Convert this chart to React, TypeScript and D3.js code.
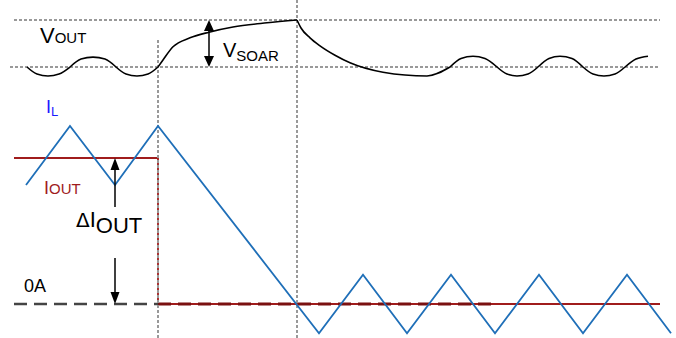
import React from "react";
import * as d3 from "d3";

// time axis (arbitrary units), output voltage (0 = VOUT, 1 = VOUT + VSOAR), inductor current (1 = IOUT)
// output voltage ripple, one arc per half period
const vRippleBefore = [
  [[27, 0], [37, -0.15], [48, -0.19], [59, -0.15], [70, 0]],
  [[70, 0], [81, 0.17], [93, 0.21], [105, 0.17], [116, 0]],
  [[116, 0], [126, -0.15], [137, -0.19], [148, -0.15], [158, 0]],
];
const vSoar = [
  [158, 0], [163, 0.15], [173, 0.43], [190, 0.62], [209, 0.74], [233, 0.85], [267, 0.94], [297, 1.0],
];
const vRecover = [
  [297, 1.0], [301, 0.83], [310, 0.62], [320, 0.45], [335, 0.25], [350, 0.09], [383, -0.11], [427, -0.19], [450, 0],
];
const vRippleAfter = [
  [[450, 0], [461, 0.18], [473, 0.23], [485, 0.18], [497, 0]],
  [[497, 0], [507, -0.15], [517, -0.19], [528, -0.15], [538, 0]],
  [[538, 0], [549, 0.18], [560, 0.23], [572, 0.18], [583, 0]],
  [[583, 0], [593, -0.15], [604, -0.19], [615, -0.15], [625, 0]],
  [[625, 0], [636, 0.17], [648, 0.23]],
];
const ilPoints = [
  [26, 0.815], [70, 1.22], [115, 0.815], [158, 1.22], [319, -0.2], [363, 0.2], [407, -0.2],
  [451, 0.2], [495, -0.2], [539, 0.2], [583, -0.2], [627, 0.2], [671, -0.2],
];
const ioutPoints = [[14, 1], [158, 1], [158, 0], [660, 0]];
const zeroDashed = [[14, 0], [158, 0]];
const zeroDashedRed = [[158, 0], [491, 0]];
const vGuides = [0, 1];
const tGuides = [158, 297];

const W = 676;
const H = 338;

export default function App() {
  const x = d3.scaleLinear().domain([0, 676]).range([0, W]);
  const yv = d3.scaleLinear().domain([0, 1]).range([67, 20]);
  const yi = d3.scaleLinear().domain([0, 1]).range([304, 158]);

  const arc = d3.line<number[]>().x((d) => x(d[0])).y((d) => yv(d[1])).curve(d3.curveMonotoneX);
  const vLine = d3.line<number[]>().x((d) => x(d[0])).y((d) => yv(d[1])).curve(d3.curveMonotoneX);
  const iLine = d3.line<number[]>().x((d) => x(d[0])).y((d) => yi(d[1]));

  const font = "'Liberation Sans', Arial, sans-serif";
  const arrowHead = (cx: number, tip: number, dir: number, len: number, hw: number) =>
    `M${cx},${tip} L${cx - hw},${tip + dir * len} L${cx + hw},${tip + dir * len} Z`;

  const ax = x(115);
  const sx = x(209);

  return (
    <svg width={W} height={H} style={{ position: "absolute", left: 0, top: 0, background: "#fff" }} fontFamily={font}>
      {/* current traces */}
      <path d={iLine(ioutPoints as any)!} fill="none" stroke="#a01c1c" strokeWidth={1.8} />
      <path d={iLine(zeroDashed as any)!} fill="none" stroke="#444" strokeWidth={2.5} strokeDasharray="13 7" />
      <path d={iLine(zeroDashedRed as any)!} fill="none" stroke="#7a1010" strokeWidth={3} strokeDasharray="13 7" />

      {/* guides */}
      {vGuides.map((v, i) => (
        <line key={"h" + i} x1={x(i === 0 ? 10 : 14)} x2={x(660)} y1={yv(v)} y2={yv(v)}
          stroke="#999" strokeWidth={2} strokeDasharray="3 2" />
      ))}
      {tGuides.map((t, i) => (
        <line key={"v" + i} x1={x(t)} x2={x(t)} y1={i === 0 ? 40 : 0} y2={H}
          stroke="#999" strokeWidth={2} strokeDasharray="3 2" />
      ))}

      <path d={iLine(ilPoints as any)!} fill="none" stroke="#1f6fb8" strokeWidth={1.8} />

      {/* output voltage */}
      {[...vRippleBefore, ...vRippleAfter].map((seg, i) => (
        <path key={"r" + i} d={arc(seg as any)!} fill="none" stroke="#000" strokeWidth={1.6} />
      ))}
      {[vSoar, vRecover].map((seg, i) => (
        <path key={"vo" + i} d={vLine(seg as any)!} fill="none" stroke="#000" strokeWidth={1.6} />
      ))}

      {/* VSOAR arrow */}
      <line x1={sx} x2={sx} y1={yv(1) + 8} y2={yv(0) - 8} stroke="#000" strokeWidth={1.5} />
      <path d={arrowHead(sx, yv(1), 1, 11, 5)} fill="#000" />
      <path d={arrowHead(sx, yv(0), -1, 11, 5)} fill="#000" />

      {/* delta IOUT arrows */}
      <line x1={ax} x2={ax} y1={yi(1) + 8} y2={yi(0.664)} stroke="#000" strokeWidth={1.5} />
      <path d={arrowHead(ax, yi(1), 1, 12, 4.5)} fill="#000" />
      <line x1={ax} x2={ax} y1={yi(0.315)} y2={yi(0) - 8} stroke="#000" strokeWidth={1.5} />
      <path d={arrowHead(ax, yi(0), -1, 12, 4.5)} fill="#000" />

      {/* labels */}
      <text x={40} y={43} fontSize={22} fill="#000">V<tspan fontSize={15}>OUT</tspan></text>
      <text x={223} y={57} fontSize={20} fill="#000">V<tspan fontSize={15} dy={4}>SOAR</tspan></text>
      <text x={46} y={113} fontSize={18} fill="#1a1aff">I<tspan fontSize={13} dy={3}>L</tspan></text>
      <text x={44} y={194} fontSize={18} fill="#a01c1c">I<tspan fontSize={15}>OUT</tspan></text>
      <text x={76} y={227} fontSize={22} fill="#000">
        <tspan fontFamily="'DejaVu Sans', sans-serif" fontSize={20}>Δ</tspan>I<tspan fontSize={22} dy={6}>OUT</tspan>
      </text>
      <text x={24} y={292} fontSize={18} fill="#000">0A</text>
    </svg>
  );
}
